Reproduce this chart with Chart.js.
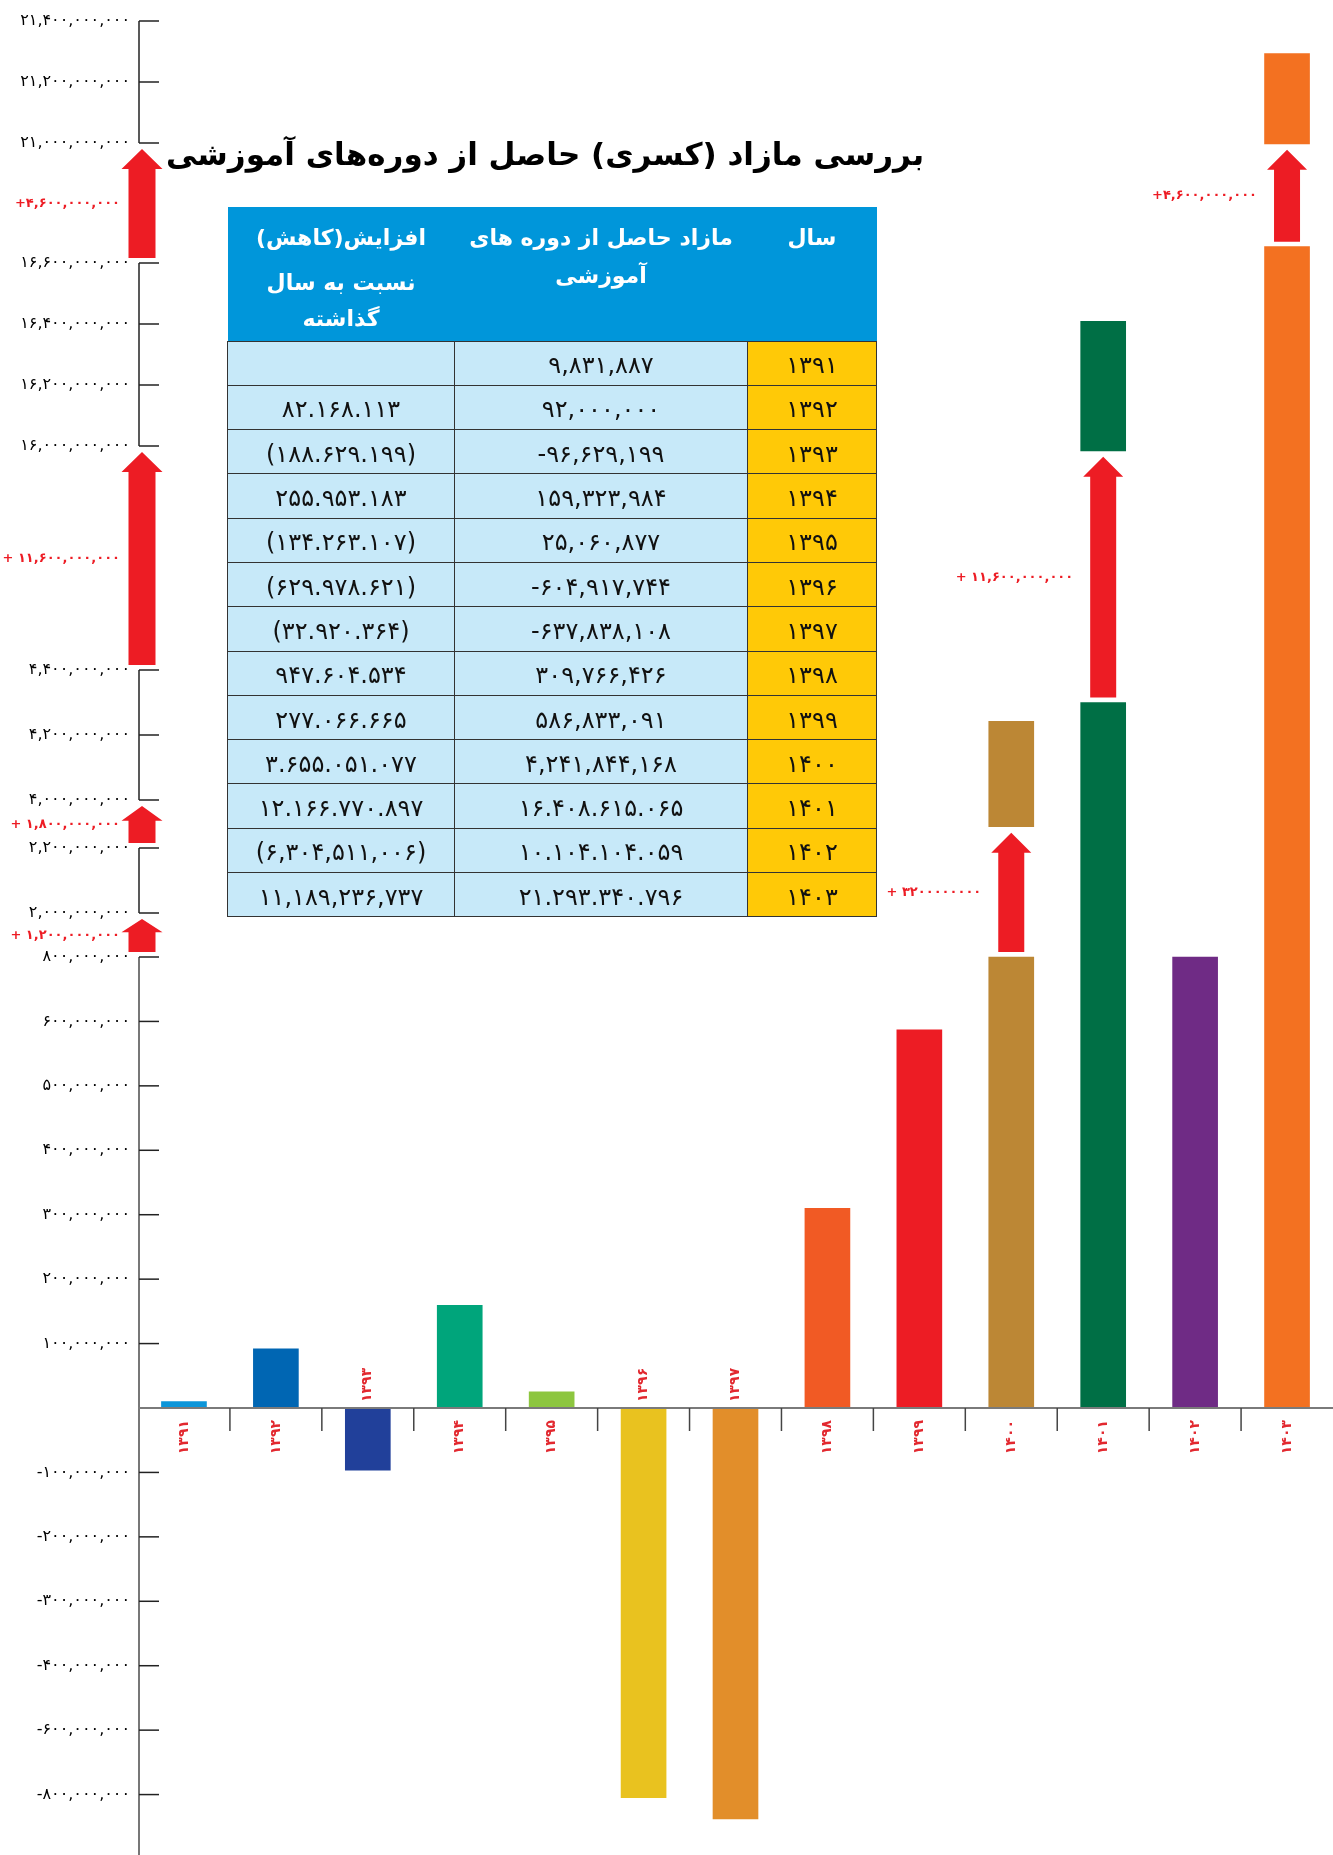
<!DOCTYPE html>
<html lang="fa">
<head>
<meta charset="utf-8">
<title>بررسی مازاد (کسری) حاصل از دوره‌های آموزشی</title>
<script src="https://cdn.jsdelivr.net/npm/chart.js@4.4.1/dist/chart.umd.min.js"></script>
<style>
  html, body { margin: 0; padding: 0; background: #fff; }
  #wrap { position: relative; width: 1333px; height: 1855px; overflow: hidden; }
  #chart { position: absolute; left: 0; top: 0; }
  #title {
    position: absolute; left: 120px; top: 136px; width: 850px; line-height: 52px;
    text-align: center; direction: rtl; color: #000;
    font: bold 31px "DejaVu Sans";
  }
  #summary {
    position: absolute; left: 227px; top: 207px; width: 649px;
    border-collapse: collapse; table-layout: fixed; direction: rtl;
    font-family: "DejaVu Sans";
  }
  #summary th {
    background: #0096da; color: #fff; font-weight: bold; font-size: 22px;
    vertical-align: top; padding: 12px 4px 0; line-height: 38px; box-sizing: border-box;
  }
  #summary th .more { margin-top: 8px; line-height: 36px; }
  #summary thead tr { height: 134px; }
  #summary tbody tr { height: 44.3px; }
  #summary td {
    background: #c7e9f9; border: 1px solid #333; text-align: center;
    font-size: 24px; color: #111; direction: ltr; padding: 4px 0 0; line-height: 38px;
  }
  #summary td.year { background: #ffc907; }
</style>
</head>
<body>
<div id="wrap">
  <canvas id="chart" width="1333" height="1855"></canvas>
  <div id="title">بررسی مازاد (کسری) حاصل از دوره‌های آموزشی</div>
  <table id="summary">
    <colgroup><col style="width:129px"><col style="width:293px"><col style="width:227px"></colgroup>
    <thead>
      <tr>
        <th>سال</th>
        <th>مازاد حاصل از دوره های<br>آموزشی</th>
        <th><div>افزایش(کاهش)</div><div class="more">نسبت به سال<br>گذاشته</div></th>
      </tr>
    </thead>
    <tbody id="rows"></tbody>
  </table>
</div>

<script>
"use strict";

// years and surplus (deficit) of the training courses
const years = ['۱۳۹۱', '۱۳۹۲', '۱۳۹۳', '۱۳۹۴', '۱۳۹۵', '۱۳۹۶', '۱۳۹۷', '۱۳۹۸', '۱۳۹۹', '۱۴۰۰', '۱۴۰۱', '۱۴۰۲', '۱۴۰۳'];
const surplus = [9831887, 92000000, -96629199, 159323984, 25060877, -604917744, -637838108,
  309766426, 586833091, 4241844168, 16408615065, 10104104059, 21293340796];
const surplusSep = [',', ',', ',', ',', ',', ',', ',', ',', ',', ',', '.', '.', '.'];

// change against the previous year
const changes = [null, 82168113, -188629199, 255953183, -134263107, -629978621, -32920364,
  947604534, 277066665, 3655051077, 12166770897, -6304511006, 11189236737];
const changeSep = [',', '.', '.', '.', '.', '.', '.', '.', '.', '.', '.', ',', ','];

const barColors = ['#0b95d9', '#0066b3', '#21409a', '#00a57b', '#8dc63f', '#e9c21f', '#e28e2a',
  '#f15a24', '#ed1c24', '#bc8735', '#006f45', '#6f2b85', '#f37121'];

// tall bars are cut: lower piece stops at breakLow, upper piece starts at breakHigh
const breakLow = [null, null, null, null, null, null, null, null, null, 700e6, 4300e6, 700e6, 17200e6];
const breakHigh = [null, null, null, null, null, null, null, null, null, 3000e6, 15750e6, null, 20970e6];
const breakText = [null, null, null, null, null, null, null, null, null,
  '+ ۳۲۰۰۰۰۰۰۰۰', '+ ۱۱,۶۰۰,۰۰۰,۰۰۰', null, '+۴,۶۰۰,۰۰۰,۰۰۰'];

// value axis ticks and the numbers written next to them
const yTicks = [21400e6, 21200e6, 21000e6, 16600e6, 16400e6, 16200e6, 16000e6, 4400e6, 4200e6, 4000e6,
  2200e6, 2000e6, 700e6, 600e6, 500e6, 400e6, 300e6, 200e6, 100e6, 0,
  -100e6, -200e6, -300e6, -400e6, -500e6, -600e6];
const yTickNames = [21400e6, 21200e6, 21000e6, 16600e6, 16400e6, 16200e6, 16000e6, 4400e6, 4200e6, 4000e6,
  2200e6, 2000e6, 800e6, 600e6, 500e6, 400e6, 300e6, 200e6, 100e6, null,
  -100e6, -200e6, -300e6, -400e6, -600e6, -800e6];

// pieces of the broken axis, top to bottom, and the jumps between them
const axisSegments = [[21000e6, 21400e6], [16000e6, 16600e6], [4000e6, 4400e6], [2000e6, 2200e6], [-800e6, 700e6]];
const axisGapText = ['+۴,۶۰۰,۰۰۰,۰۰۰', '+ ۱۱,۶۰۰,۰۰۰,۰۰۰', '+ ۱,۸۰۰,۰۰۰,۰۰۰', '+ ۱,۲۰۰,۰۰۰,۰۰۰'];

// broken axis: value -> height in px above the zero line
const knotValues = [0, 700e6, 2000e6, 2200e6, 4000e6, 4400e6, 16000e6, 16600e6, 21000e6, 21400e6];
const knotHeights = [0, 451, 495, 560, 608, 738, 962, 1145, 1265, 1387];

function toUnit(v) {
  const n = knotValues.length;
  let i = 0;
  while (i < n - 2 && v > knotValues[i + 1]) i++;
  const t = (v - knotValues[i]) / (knotValues[i + 1] - knotValues[i]);
  return knotHeights[i] + t * (knotHeights[i + 1] - knotHeights[i]);
}
function fromUnit(u) {
  const n = knotHeights.length;
  let i = 0;
  while (i < n - 2 && u > knotHeights[i + 1]) i++;
  const t = (u - knotHeights[i]) / (knotHeights[i + 1] - knotHeights[i]);
  return knotValues[i] + t * (knotValues[i + 1] - knotValues[i]);
}

class BrokenScale extends Chart.LinearScale {
  getPixelForValue(value) {
    return value === null ? NaN : super.getPixelForValue(toUnit(value));
  }
  getValueForPixel(pixel) {
    return fromUnit(super.getValueForPixel(pixel));
  }
}
BrokenScale.id = 'broken';
BrokenScale.defaults = Chart.LinearScale.defaults;
Chart.register(BrokenScale);

const faDigits = '۰۱۲۳۴۵۶۷۸۹';
function fa(n, sep) {
  const s = Math.abs(n).toString().replace(/\B(?=(\d{3})+(?!\d))/g, sep);
  return s.replace(/\d/g, d => faDigits[d]);
}

// table under the title
const rows = document.getElementById('rows');
years.forEach((yr, i) => {
  const tr = document.createElement('tr');
  const s = surplus[i] < 0 ? '-' + fa(surplus[i], surplusSep[i]) : fa(surplus[i], surplusSep[i]);
  let c = '';
  if (changes[i] !== null) {
    c = changes[i] < 0 ? '(' + fa(changes[i], changeSep[i]) + ')' : fa(changes[i], changeSep[i]);
  }
  tr.innerHTML = '<td class="year">' + yr + '</td><td>' + s + '</td><td>' + c + '</td>';
  rows.appendChild(tr);
});

function drawArrow(ctx, cx, tipY, baseY, shaft, head) {
  const hl = Math.min(20, (baseY - tipY) * 0.4);
  ctx.beginPath();
  ctx.moveTo(cx, tipY);
  ctx.lineTo(cx + head / 2, tipY + hl);
  ctx.lineTo(cx + shaft / 2, tipY + hl);
  ctx.lineTo(cx + shaft / 2, baseY);
  ctx.lineTo(cx - shaft / 2, baseY);
  ctx.lineTo(cx - shaft / 2, tipY + hl);
  ctx.lineTo(cx - head / 2, tipY + hl);
  ctx.closePath();
  ctx.fill();
}

function hline(ctx, x1, x2, y) {
  ctx.beginPath(); ctx.moveTo(x1, y); ctx.lineTo(x2, y); ctx.stroke();
}
function vline(ctx, x, y1, y2) {
  ctx.beginPath(); ctx.moveTo(x, y1); ctx.lineTo(x, y2); ctx.stroke();
}

// axis brackets, jump arrows and year labels
const decor = {
  id: 'decor',
  afterDatasetsDraw(chart) {
    const { ctx, chartArea: area, scales: { x, y } } = chart;
    const y0 = y.getPixelForValue(0);
    const axisX = 139;
    ctx.save();

    // broken value axis
    axisSegments.forEach((seg, k) => {
      const main = k === axisSegments.length - 1;
      const top = y.getPixelForValue(seg[1]);
      const bottom = main ? area.bottom : y.getPixelForValue(seg[0]);
      ctx.strokeStyle = main ? '#777' : '#222';
      ctx.lineWidth = main ? 2 : 1.5;
      vline(ctx, axisX, top, bottom);
      ctx.strokeStyle = '#222';
      ctx.lineWidth = 1.5;
      yTicks.forEach(v => {
        if (v >= seg[0] && v <= seg[1]) hline(ctx, axisX, axisX + 20, y.getPixelForValue(v));
      });
    });

    ctx.fillStyle = '#ed1c24';
    ctx.font = 'bold 13px "DejaVu Sans"';
    ctx.textBaseline = 'middle';
    ctx.textAlign = 'right';
    axisGapText.forEach((txt, k) => {
      const tip = y.getPixelForValue(axisSegments[k][0]) + 6;
      const base = y.getPixelForValue(axisSegments[k + 1][1]) - 5;
      drawArrow(ctx, 142, tip, base, 27, 41);
      ctx.fillText(txt, 120, (tip + base) / 2);
    });

    // jumps inside the cut bars
    years.forEach((yr, i) => {
      if (breakHigh[i] === null) return;
      const cx = x.getPixelForValue(i);
      const tip = y.getPixelForValue(breakHigh[i]) + 6;
      const base = y.getPixelForValue(breakLow[i]) - 5;
      drawArrow(ctx, cx, tip, base, 26, 40);
      ctx.fillText(breakText[i], cx - 30, (tip + base) / 2);
    });

    // category axis on the zero line
    const half = (x.getPixelForValue(1) - x.getPixelForValue(0)) / 2;
    ctx.strokeStyle = '#7a7a7a';
    ctx.lineWidth = 2;
    hline(ctx, area.left, area.right, y0);
    ctx.strokeStyle = '#444';
    ctx.lineWidth = 1.5;
    for (let i = 1; i < years.length; i++) {
      const bx = x.getPixelForValue(i) - half;
      vline(ctx, bx, y0, y0 + 23);
    }

    ctx.fillStyle = '#e2282f';
    ctx.font = 'bold 14px "DejaVu Sans"';
    years.forEach((yr, i) => {
      const cx = x.getPixelForValue(i);
      ctx.save();
      if (surplus[i] < 0) {
        ctx.translate(cx, y0 - 6);
        ctx.rotate(-Math.PI / 2);
        ctx.textAlign = 'left';
      } else {
        ctx.translate(cx, y0 + 12);
        ctx.rotate(-Math.PI / 2);
        ctx.textAlign = 'right';
      }
      ctx.fillText(yr, 0, 0);
      ctx.restore();
    });
    ctx.restore();
  }
};

const lowerPieces = surplus.map((v, i) => breakLow[i] === null ? v : [0, Math.min(v, breakLow[i])]);
const upperPieces = surplus.map((v, i) => breakHigh[i] === null ? null : [breakHigh[i], v]);

new Chart(document.getElementById('chart'), {
  type: 'bar',
  data: {
    labels: years,
    datasets: [
      { data: lowerPieces, backgroundColor: barColors, barThickness: 45, grouped: false, borderWidth: 0 },
      { data: upperPieces, backgroundColor: barColors, barThickness: 45, grouped: false, borderWidth: 0 }
    ]
  },
  options: {
    responsive: false,
    devicePixelRatio: 1,
    animation: false,
    events: [],
    layout: { padding: 0 },
    plugins: { legend: { display: false }, tooltip: { enabled: false } },
    scales: {
      x: { type: 'category', display: false, offset: true },
      y: {
        type: 'broken',
        min: -447,
        max: 1408,
        bounds: 'data',
        grid: { display: false, drawTicks: false },
        border: { display: false },
        afterBuildTicks: scale => { scale.ticks = yTicks.map(v => ({ value: v })); },
        afterFit: scale => { scale.width = 138; scale.paddingTop = 0; scale.paddingBottom = 0; },
        ticks: {
          autoSkip: false,
          padding: 8,
          color: '#000',
          font: { family: 'DejaVu Sans', size: 16 },
          callback: (value, index) => {
            const n = yTickNames[index];
            if (n === null) return '';
            return n < 0 ? '-' + fa(n, ',') : fa(n, ',');
          }
        }
      }
    }
  },
  plugins: [decor]
});
</script>
</body>
</html>
